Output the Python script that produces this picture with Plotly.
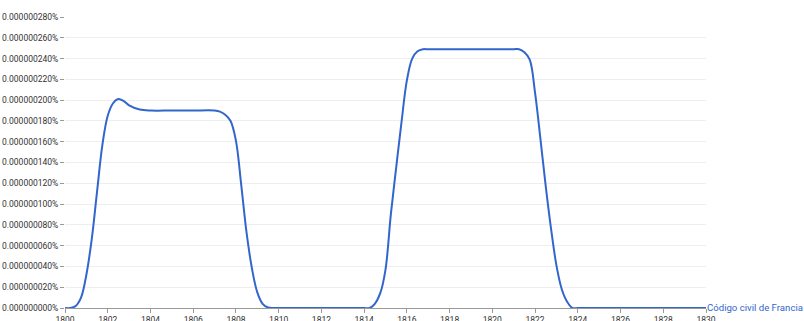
import plotly.graph_objects as go

# Years (quarter/half-year samples)
years = [1800, 1800.25, 1800.5, 1800.75, 1801, 1801.25, 1801.5, 1801.75, 1802, 1802.25,
         1802.5, 1802.75, 1803, 1803.5, 1804, 1805, 1806, 1807, 1807.25, 1807.5, 1807.75,
         1808, 1808.25, 1808.5, 1808.75, 1809, 1809.25, 1809.5, 1809.75, 1810, 1811, 1812,
         1813, 1814, 1814.25, 1814.5, 1814.75, 1815, 1815.25, 1815.5, 1815.75, 1816,
         1816.25, 1816.5, 1816.75, 1817, 1818, 1819, 1820, 1821, 1821.25, 1821.5, 1821.75,
         1822, 1822.25, 1822.5, 1822.75, 1823, 1823.25, 1823.5, 1823.75, 1824, 1825,
         1826, 1827, 1828, 1829, 1830]
# Values in units of 1e-9 %
values = [0.0, 0.0, 0.002, 0.01, 0.032, 0.066, 0.112, 0.157, 0.185, 0.197,
          0.201, 0.199, 0.195, 0.191, 0.19, 0.19, 0.19, 0.19, 0.189, 0.186, 0.18,
          0.161, 0.118, 0.072, 0.038, 0.015, 0.004, 0.0005, 0.0, 0.0, 0.0, 0.0,
          0.0, 0.0, 0.0, 0.004, 0.014, 0.037, 0.09, 0.135, 0.179, 0.219,
          0.24, 0.247, 0.249, 0.249, 0.249, 0.249, 0.249, 0.249, 0.249, 0.246, 0.239,
          0.207, 0.163, 0.117, 0.076, 0.041, 0.018, 0.006, 0.0, 0.0, 0.0,
          0.0, 0.0, 0.0, 0.0, 0.0]

series_name = "Código civil de Francia"

y_tickvals = [0.00, 0.02, 0.04, 0.06, 0.08, 0.10, 0.12, 0.14, 0.16, 0.18, 0.20,
              0.22, 0.24, 0.26, 0.28]
y_ticktext = ["0.000000000%", "0.000000020%", "0.000000040%", "0.000000060%",
              "0.000000080%", "0.000000100%", "0.000000120%", "0.000000140%",
              "0.000000160%", "0.000000180%", "0.000000200%", "0.000000220%",
              "0.000000240%", "0.000000260%", "0.000000280%"]
x_tickvals = list(range(1800, 1831, 2))

line_color = "#3366cc"
font_family = "Roboto, sans-serif"

fig = go.Figure()
fig.add_trace(go.Scatter(
    x=years, y=values, mode="lines",
    line=dict(color=line_color, width=2, shape="spline", smoothing=1.0),
    name=series_name, showlegend=False, hoverinfo="x+y",
))

fig.add_annotation(
    x=1830, y=0, xref="x", yref="y", text=series_name, showarrow=False,
    xanchor="left", yanchor="middle", xshift=-1, yshift=1,
    font=dict(family=font_family, size=9.6, color=line_color),
)

fig.update_layout(
    width=804, height=321,
    margin=dict(l=65, r=98, t=17, b=13),
    paper_bgcolor="white", plot_bgcolor="white",
    font=dict(family=font_family, size=8, color="#333333"),
)
fig.update_xaxes(
    range=[1800, 1830], tickvals=x_tickvals, ticks="outside", ticklen=4,
    tickcolor="#999999", showgrid=False, zeroline=False, automargin=False,
    showline=True, linecolor="#999999", linewidth=1,
    tickfont=dict(family=font_family, size=8.5, color="#333333"),
)
fig.update_yaxes(
    range=[0, 0.28], tickvals=y_tickvals, ticktext=y_ticktext,
    ticks="outside", ticklen=4, tickcolor="#999999", automargin=False,
    showgrid=True, gridcolor="#eeeeee", zeroline=False, showline=False,
    tickfont=dict(family=font_family, size=8.5, color="#333333"),
)

# remove the browser's default 8px body margin so the figure fills the window
fig.write_html("out.html", config={"displayModeBar": False},
               post_script="document.body.style.margin='0';")
